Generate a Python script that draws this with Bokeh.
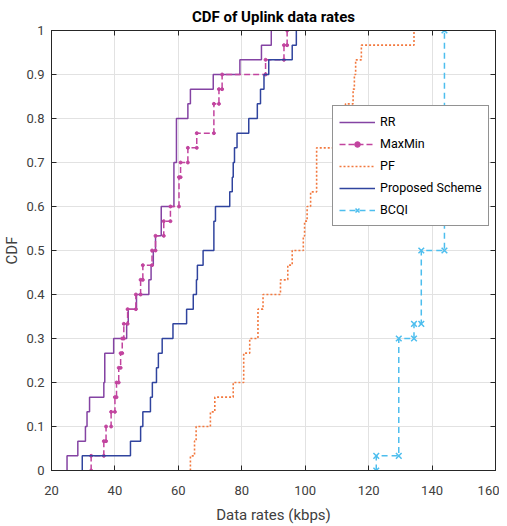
import numpy as np
from bokeh.plotting import figure
from bokeh.models import Range1d, LinearAxis, FixedTicker, Legend, LegendItem
from bokeh.embed import file_html
from bokeh.resources import INLINE

# ---- data (kbps), 30 users per scheme ----
rr_rates = [24.9, 28.3, 30.7, 31.2, 32.0, 36.5, 36.8, 36.8, 39.6, 43.7,
            44.2, 46.8, 50.7, 51.4, 52.1, 52.8, 54.6, 54.6, 58.6, 58.6,
            58.6, 59.4, 59.4, 59.4, 63.0, 63.8, 71.0, 79.4, 86.2, 89.3]
maxmin_rates = [32.5, 36.5, 37.2, 38.8, 40.0, 40.5, 41.2, 41.8, 42.3, 42.8,
                44.0, 46.6, 48.1, 48.8, 51.7, 52.8, 55.4, 57.5, 60.2, 60.2,
                60.7, 63.0, 65.8, 71.2, 71.2, 72.8, 73.8, 87.5, 93.3, 94.3]
pf_rates = [63.8, 65.1, 65.6, 70.1, 71.5, 77.3, 80.6, 80.6, 82.5, 85.1,
            85.1, 86.7, 92.2, 94.5, 95.9, 99.4, 99.8, 100.6, 101.7, 103.6,
            103.6, 103.6, 109.5, 111.0, 112.7, 115.1, 115.5, 115.9, 117.7, 134.3]
proposed_rates = [29.7, 44.9, 48.1, 48.8, 51.2, 51.8, 53.1, 53.7, 54.9, 58.3,
                  62.6, 64.7, 65.7, 66.0, 67.8, 71.2, 71.2, 71.7, 76.2, 77.0,
                  77.3, 77.7, 78.5, 82.2, 84.9, 85.9, 87.0, 88.5, 95.9, 97.2]
bcqi_rates = [122.4, 129.5, 129.5, 129.5, 129.5, 129.5, 129.5, 129.5, 129.5, 134.3,
              136.6, 136.6, 136.6, 136.6, 136.6, 143.9, 143.9, 143.9, 143.9, 143.9,
              143.9, 143.9, 143.9, 143.9, 143.9, 143.9, 143.9, 143.9, 143.9, 143.9]

series_names = ["RR", "MaxMin", "PF", "Proposed Scheme", "BCQI"]
x_ticks = [20, 40, 60, 80, 100, 120, 140, 160]
y_ticks = [0, 0.1, 0.2, 0.3, 0.4, 0.5, 0.6, 0.7, 0.8, 0.9, 1]
y_tick_labels = ["0", "0.1", "0.2", "0.3", "0.4", "0.5", "0.6", "0.7", "0.8", "0.9", "1"]


def cdf_steps(vals):
    v = np.sort(np.asarray(vals, dtype=float))
    u, counts = np.unique(v, return_counts=True)
    c = np.cumsum(counts) / len(v)
    xs = np.repeat(u, 2)
    ys = np.empty_like(xs)
    ys[0::2] = np.concatenate([[0.0], c[:-1]])
    ys[1::2] = c
    return xs, ys


FONT = "Roboto"
TXT = "#262626"
LBL = "#404040"

p = figure(output_backend="svg", toolbar_location=None,
           frame_width=444, frame_height=440,
           x_range=Range1d(20, 160), y_range=Range1d(0, 1),
           min_border_left=43, min_border_right=4, min_border_top=0, min_border_bottom=0,
           title="CDF of Uplink data rates")
p.title.align = "center"
p.title.text_font = FONT
p.title.text_font_size = "15px"
p.title.text_font_style = "bold"
p.title.text_color = "#000000"
p.title.standoff = 10
p.title.offset = 0

p.background_fill_color = "white"
p.border_fill_color = "white"
p.outline_line_color = TXT
p.outline_line_width = 1

p.xaxis.ticker = FixedTicker(ticks=x_ticks)
p.yaxis.ticker = FixedTicker(ticks=y_ticks)
p.yaxis.major_label_overrides = {t: l for t, l in zip(y_ticks, y_tick_labels)}
p.xaxis.axis_label = "Data rates (kbps)"
p.yaxis.axis_label = "CDF"

for ax in (p.xaxis[0], p.yaxis[0]):
    ax.axis_line_color = TXT
    ax.major_tick_line_color = TXT
    ax.major_tick_in = 5
    ax.major_tick_out = 0
    ax.minor_tick_line_color = None
    ax.major_label_text_font = FONT
    ax.major_label_text_font_size = "13px"
    ax.major_label_text_color = LBL
    ax.axis_label_text_font = FONT
    ax.axis_label_text_font_size = "15px"
    ax.axis_label_text_font_style = "normal"
    ax.axis_label_text_color = LBL
p.xaxis.major_label_standoff = 15
p.yaxis.major_label_standoff = 7
p.xaxis.axis_label_standoff = 8
p.yaxis.axis_label_standoff = 2

top_ax = LinearAxis(ticker=FixedTicker(ticks=x_ticks),
                    major_label_overrides={t: "" for t in x_ticks},
                    major_tick_in=5, major_tick_out=0, minor_tick_line_color=None,
                    axis_line_color=TXT, major_tick_line_color=TXT, major_label_standoff=0)
right_ax = LinearAxis(ticker=FixedTicker(ticks=y_ticks),
                      major_label_overrides={t: "" for t in y_ticks},
                      major_tick_in=5, major_tick_out=0, minor_tick_line_color=None,
                      axis_line_color=TXT, major_tick_line_color=TXT, major_label_standoff=0)
p.add_layout(top_ax, "above")
p.add_layout(right_ax, "right")

p.xgrid.grid_line_color = "#E2E2E2"
p.ygrid.grid_line_color = "#E2E2E2"
p.xgrid.grid_line_width = 1
p.ygrid.grid_line_width = 1

colors = ["#8443A3", "#C2449F", "#F2783E", "#30449E", "#4DBEEE"]

items = []
# RR
xs, ys = cdf_steps(rr_rates)
r_rr = p.line(xs, ys, line_color=colors[0], line_width=1.5)
items.append(LegendItem(label=series_names[0], renderers=[r_rr]))
# MaxMin
xs, ys = cdf_steps(maxmin_rates)
r_mm = p.line(xs, ys, line_color=colors[1], line_width=1.5, line_dash="6 3")
r_mm_s = p.scatter(xs, ys, marker="circle", size=3, fill_color=colors[1], line_color=colors[1])
items.append(LegendItem(label=series_names[1], renderers=[r_mm, r_mm_s]))
# PF
xs, ys = cdf_steps(pf_rates)
r_pf = p.line(xs, ys, line_color=colors[2], line_width=1.6, line_dash="2 2")
items.append(LegendItem(label=series_names[2], renderers=[r_pf]))
# Proposed
xs, ys = cdf_steps(proposed_rates)
r_pr = p.line(xs, ys, line_color=colors[3], line_width=1.5)
items.append(LegendItem(label=series_names[3], renderers=[r_pr]))
# BCQI
xs, ys = cdf_steps(bcqi_rates)
r_bc = p.line(xs, ys, line_color=colors[4], line_width=1.5, line_dash="6 4")
r_bc_s = p.scatter(xs, ys, marker="x", size=8, line_color=colors[4], line_width=1.5)
items.append(LegendItem(label=series_names[4], renderers=[r_bc, r_bc_s]))

legend = Legend(items=items, location=(281, 244))
legend.label_text_font = FONT
legend.label_text_font_size = "12.5px"
legend.label_text_color = "#000000"
legend.glyph_width = 36
legend.glyph_height = 14
legend.label_height = 19
legend.label_standoff = 5
legend.spacing = 3
legend.padding = 6
legend.margin = 0
legend.border_line_color = TXT
legend.border_line_width = 1
legend.background_fill_color = "white"
legend.background_fill_alpha = 1
p.add_layout(legend, "center")

open("out.html", "w").write(file_html(p, INLINE))
